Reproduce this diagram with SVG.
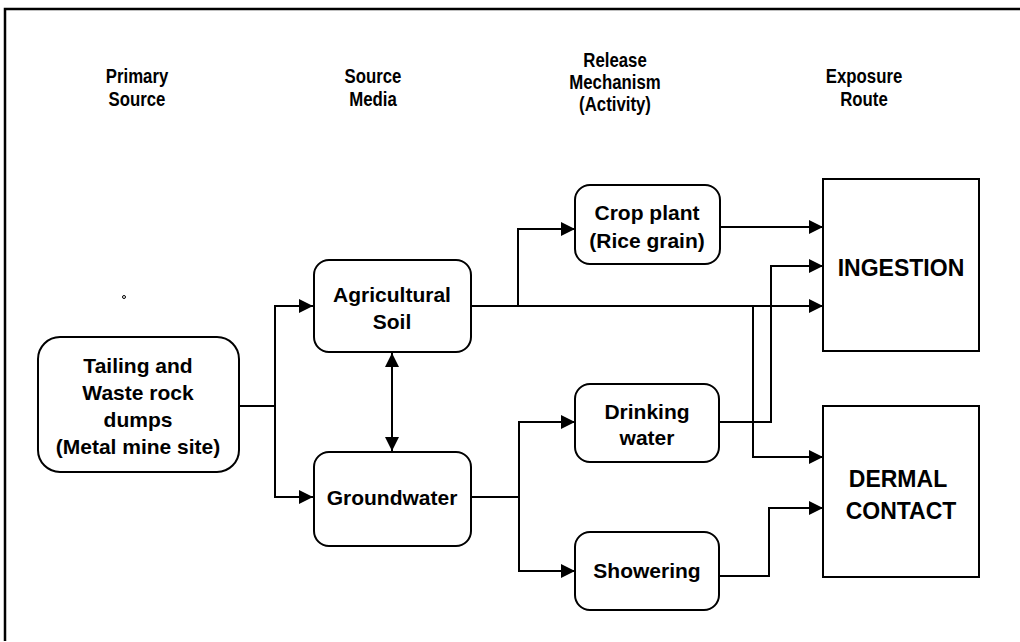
<svg xmlns="http://www.w3.org/2000/svg" width="1020" height="642" viewBox="0 0 1020 642">
<style>
.box{fill:#fff;stroke:#000;stroke-width:2}
.t{font-family:"Liberation Sans",Arial,sans-serif;font-weight:bold;font-size:21px;text-anchor:middle;fill:#000}
.big{font-size:23px}
.h{font-family:"Liberation Sans",Arial,sans-serif;font-weight:bold;font-size:20px;text-anchor:middle;fill:#000}
.c{fill:none;stroke:#000;stroke-width:2}
</style>
<defs>
<marker id="ah" markerUnits="userSpaceOnUse" markerWidth="15" markerHeight="15" refX="14" refY="7" orient="auto-start-reverse" viewBox="0 0 15 15">
<path d="M0,0 L14,7 L0,14 z" fill="#000"/>
</marker>
</defs>
<rect width="1020" height="642" fill="#fff"/>
<path d="M5,641 V9 H1020" fill="none" stroke="#000" stroke-width="2.5"/>
<circle cx="124" cy="297" r="1.5" fill="none" stroke="#000" stroke-width="1"/>

<g id="headers">
<g transform="translate(137,0) scale(0.84,1)"><text class="h" x="0" y="83">Primary</text><text class="h" x="0" y="106">Source</text></g>
<g transform="translate(373,0) scale(0.84,1)"><text class="h" x="0" y="83">Source</text><text class="h" x="0" y="106">Media</text></g>
<g transform="translate(615,0) scale(0.84,1)"><text class="h" x="0" y="67">Release</text><text class="h" x="0" y="89">Mechanism</text><text class="h" x="0" y="111">(Activity)</text></g>
<g transform="translate(864,0) scale(0.84,1)"><text class="h" x="0" y="83">Exposure</text><text class="h" x="0" y="106">Route</text></g>
</g>

<g id="connectors">
<path class="c" d="M239,406 H275"/>
<path class="c" d="M275,406 V306 H313" marker-end="url(#ah)"/>
<path class="c" d="M275,406 V497 H313" marker-end="url(#ah)"/>
<path class="c" d="M392,353 V451" marker-start="url(#ah)" marker-end="url(#ah)"/>
<path class="c" d="M471,306 H823" marker-end="url(#ah)"/>
<path class="c" d="M518,306 V229 H575" marker-end="url(#ah)"/>
<path class="c" d="M720,227 H823" marker-end="url(#ah)"/>
<path class="c" d="M719,422 H771 V266 H823" marker-end="url(#ah)"/>
<path class="c" d="M753,306 V457 H823" marker-end="url(#ah)"/>
<path class="c" d="M471,497 H519"/>
<path class="c" d="M519,497 V422 H575" marker-end="url(#ah)"/>
<path class="c" d="M519,497 V571 H575" marker-end="url(#ah)"/>
<path class="c" d="M719,576 H769 V508 H823" marker-end="url(#ah)"/>
</g>

<g id="tailing">
<rect class="box" x="38" y="337" width="201" height="135" rx="22"/>
<text class="t" x="138" y="373">Tailing and</text>
<text class="t" x="138" y="400">Waste rock</text>
<text class="t" x="138" y="427">dumps</text>
<text class="t" x="138" y="454">(Metal mine site)</text>
</g>
<g id="agricultural-soil">
<rect class="box" x="314" y="260" width="157" height="92" rx="15"/>
<text class="t" x="392" y="302">Agricultural</text>
<text class="t" x="392" y="329">Soil</text>
</g>
<g id="groundwater">
<rect class="box" x="314" y="452" width="157" height="94" rx="15"/>
<text class="t" x="392" y="505">Groundwater</text>
</g>
<g id="crop-plant">
<rect class="box" x="575" y="185" width="145" height="79" rx="15"/>
<text class="t" x="647" y="220">Crop plant</text>
<text class="t" x="647" y="248">(Rice grain)</text>
</g>
<g id="drinking-water">
<rect class="box" x="575" y="384" width="144" height="78" rx="15"/>
<text class="t" x="647" y="419">Drinking</text>
<text class="t" x="647" y="445">water</text>
</g>
<g id="showering">
<rect class="box" x="575" y="532" width="144" height="78" rx="15"/>
<text class="t" x="647" y="578">Showering</text>
</g>
<g id="ingestion">
<rect class="box" x="823" y="179" width="156" height="172"/>
<text class="t big" x="901" y="276">INGESTION</text>
</g>
<g id="dermal-contact">
<rect class="box" x="823" y="406" width="156" height="171"/>
<text class="t big" x="898" y="487">DERMAL</text>
<text class="t big" x="901" y="519">CONTACT</text>
</g>
</svg>
